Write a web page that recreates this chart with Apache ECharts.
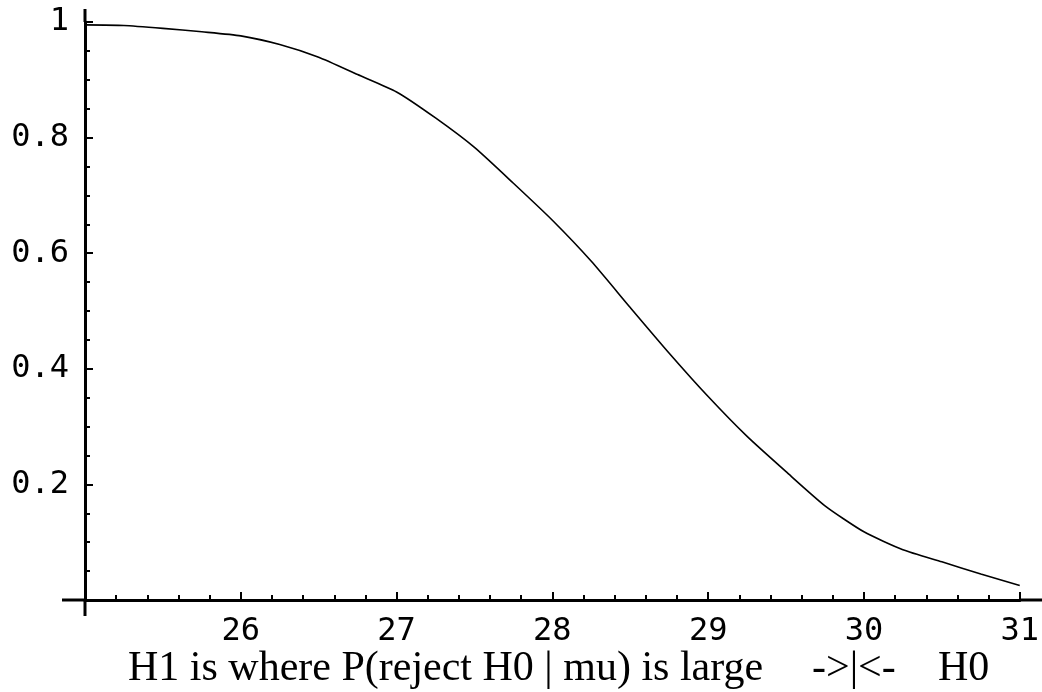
<!DOCTYPE html>
<html>
<head>
<meta charset="utf-8">
<script src="https://cdn.jsdelivr.net/npm/echarts@6/dist/echarts.min.js"></script>
<style>
    html, body { margin: 0; padding: 0; background: #fff; }
    #chart { width: 1042px; height: 692px; }
</style>
</head>
<body>
<div id="chart"></div>
<script>
    // mu values and P(reject H0 | mu)
    const muValues = [25, 25.25, 25.5, 25.75, 26, 26.25, 26.5, 26.75, 27, 27.25, 27.5, 27.75,
        28, 28.25, 28.5, 28.75, 29, 29.25, 29.5, 29.75, 30, 30.25, 30.5, 30.75, 31];
    const powerValues = [0.995, 0.994, 0.989, 0.983, 0.976, 0.961, 0.939, 0.909, 0.879, 0.834, 0.783, 0.721,
        0.657, 0.586, 0.506, 0.427, 0.352, 0.283, 0.222, 0.163, 0.118, 0.087, 0.066, 0.045, 0.025];
    const xRange = [25, 31];
    const yRange = [0, 1];
    const captionLeft = 'H1 is where P(reject H0 | mu) is large';
    const captionMid = '->|<-';
    const captionRight = 'H0';

    const mono = '"DejaVu Sans Mono", monospace';
    const serif = '"Liberation Serif", "Times New Roman", serif';

    let myChart = echarts.init(document.getElementById('chart'));

    let option = {
        animation: false,
        backgroundColor: '#ffffff',
        grid: { left: 85, right: 21, top: 22, bottom: 92 },
        xAxis: {
            type: 'value',
            min: xRange[0],
            max: xRange[1],
            interval: 1,
            splitLine: { show: false },
            axisLine: { onZero: false, lineStyle: { color: '#000', width: 3 } },
            axisTick: { inside: true, length: 8, lineStyle: { color: '#000', width: 2 } },
            minorTick: { show: true, splitNumber: 5, length: 5, lineStyle: { color: '#000', width: 2 } },
            axisLabel: {
                showMinLabel: false,
                margin: 16,
                color: '#000',
                fontFamily: mono,
                fontSize: 32
            }
        },
        yAxis: {
            type: 'value',
            min: yRange[0],
            max: yRange[1],
            interval: 0.2,
            splitLine: { show: false },
            axisLine: { onZero: false, lineStyle: { color: '#000', width: 3 } },
            axisTick: { inside: true, length: 8, lineStyle: { color: '#000', width: 2 } },
            minorTick: { show: true, splitNumber: 4, length: 5, lineStyle: { color: '#000', width: 2 } },
            axisLabel: {
                showMinLabel: false,
                margin: 16,
                color: '#000',
                fontFamily: mono,
                fontSize: 32
            }
        },
        series: [
            {
                type: 'line',
                data: muValues.map((m, i) => [m, powerValues[i]]),
                showSymbol: false,
                smooth: 0.2,
                lineStyle: { color: '#000', width: 1.6 }
            }
        ]
    };
    myChart.setOption(option);

    // axis lines in the original run a little past the plot box
    let origin = myChart.convertToPixel({ gridIndex: 0 }, [xRange[0], yRange[0]]);
    let yTop = myChart.convertToPixel({ gridIndex: 0 }, [xRange[0], yRange[1]]);
    let xEnd = myChart.convertToPixel({ gridIndex: 0 }, [xRange[1], yRange[0]]);
    let axisStyle = { stroke: '#000', lineWidth: 3 };

    myChart.setOption({
        graphic: [
            { type: 'line', shape: { x1: origin[0] - 23, y1: origin[1], x2: origin[0], y2: origin[1] }, style: axisStyle },
            { type: 'line', shape: { x1: xEnd[0], y1: origin[1], x2: 1042, y2: origin[1] }, style: axisStyle },
            { type: 'line', shape: { x1: origin[0], y1: yTop[1] - 13, x2: origin[0], y2: yTop[1] }, style: axisStyle },
            { type: 'line', shape: { x1: origin[0], y1: origin[1], x2: origin[0], y2: origin[1] + 16 }, style: axisStyle },
            {
                type: 'text', left: 128, top: 648,
                style: { text: captionLeft, font: '42px ' + serif, fill: '#000' }
            },
            {
                type: 'text', left: 812, top: 648,
                style: { text: captionMid, font: '42px ' + serif, fill: '#000' }
            },
            {
                type: 'text', left: 938, top: 648,
                style: { text: captionRight, font: '42px ' + serif, fill: '#000' }
            }
        ]
    });
</script>
</body>
</html>
